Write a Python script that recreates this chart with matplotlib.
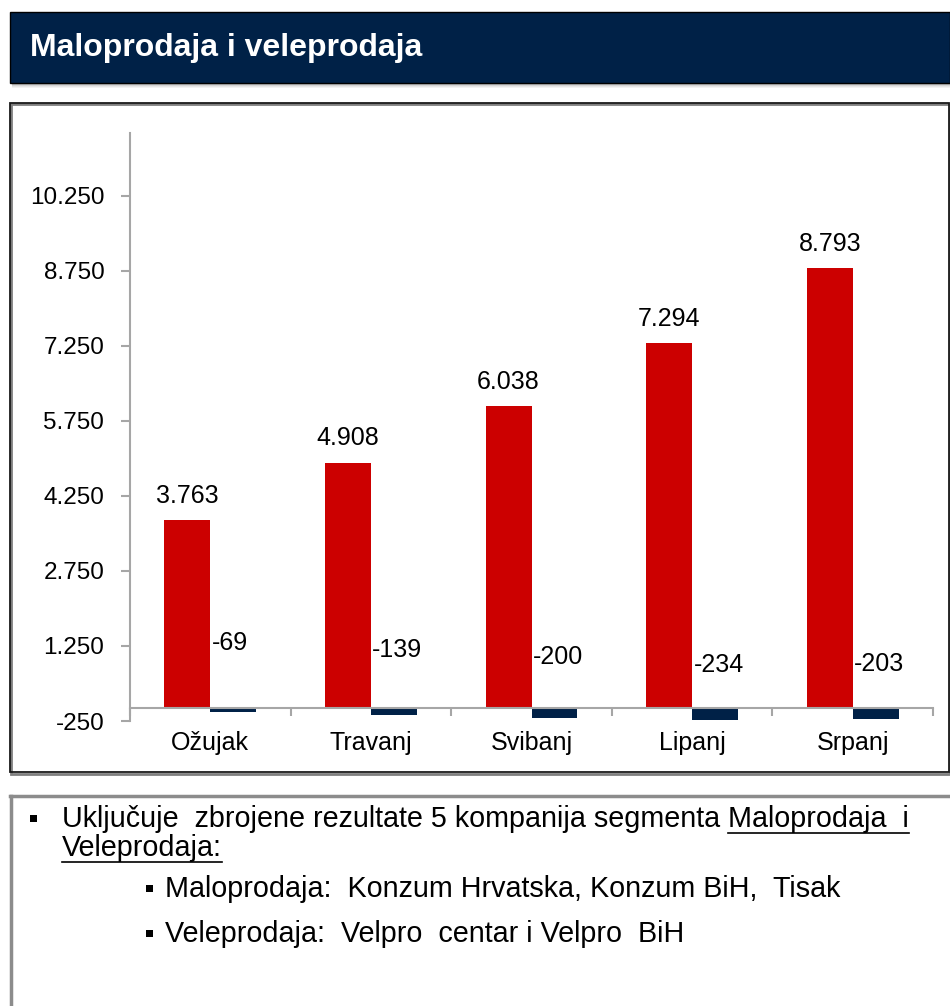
import matplotlib
matplotlib.use('Agg')
import matplotlib.pyplot as plt
from matplotlib.patches import Rectangle
from matplotlib.lines import Line2D
import numpy as np

# ---------------- data ----------------
months = ['Ožujak', 'Travanj', 'Svibanj', 'Lipanj', 'Srpanj']
maloprodaja = [3763, 4908, 6038, 7294, 8793]
veleprodaja = [-69, -139, -200, -234, -203]
ytick_values = [-250, 1250, 2750, 4250, 5750, 7250, 8750, 10250]
ytick_labels = ['-250', '1.250', '2.750', '4.250', '5.750', '7.250', '8.750', '10.250']
title = 'Maloprodaja i veleprodaja'
note_line1 = 'Uključuje  zbrojene rezultate 5 kompanija segmenta '
note_line1_ul = 'Maloprodaja  i'
note_line2_ul = 'Veleprodaja:'
sub_bullets = ['Maloprodaja:  Konzum Hrvatska, Konzum BiH,  Tisak',
               'Veleprodaja:  Velpro  centar i Velpro  BiH']

# ---------------- style / layout ----------------
RED = '#CC0000'
NAVY = '#002147'
GRID_GREY = '#A6A6A6'
W, H = 950, 1006
# label heights (pixels above zero line) for the negative-series labels
vele_label_px = [65, 58, 51, 43, 44]

plt.rcParams['font.family'] = ['Liberation Sans', 'DejaVu Sans']
fig = plt.figure(figsize=(W / 100, H / 100), dpi=100)


def fx(x):
    return x / W


def fy(y):
    return 1 - y / H


def rect(x0, y0, x1, y1, **kw):
    r = Rectangle((fx(x0), fy(y1)), (x1 - x0) / W, (y1 - y0) / H,
                  transform=fig.transFigure, **kw)
    fig.add_artist(r)
    return r


# header shadow
for i, a in enumerate([0.35, 0.25, 0.17, 0.10, 0.05]):
    rect(12, 83 + i, 950, 84 + i, facecolor='black', alpha=a, edgecolor='none', lw=0)
# header box
rect(10, 12, 950, 83, facecolor=NAVY, edgecolor='#000000', lw=1)
fig.text(fx(30), fy(48), title, color='white', fontsize=23, fontweight='bold',
         ha='left', va='center')

# chart frame
rect(11, 104, 950, 774, facecolor='none', edgecolor='#7F7F7F', lw=2.0)
rect(10, 103, 949, 772, facecolor='none', edgecolor='#1A1A1A', lw=1.3)

# ---------------- axes ----------------
ax = fig.add_axes([fx(130), fy(721), (933 - 130) / W, (721 - 133) / H])
x = np.arange(len(months))
w = 0.286
ax.bar(x - w / 2, maloprodaja, w, color=RED, zorder=2)
ax.bar(x + w / 2, veleprodaja, w, color=NAVY, zorder=2)
ax.set_xlim(-0.5, len(months) - 0.5)
ax.set_ylim(-250, 11500)

for s in ['top', 'right']:
    ax.spines[s].set_visible(False)
ax.spines['bottom'].set_position(('data', 0))
for s in ['bottom', 'left']:
    ax.spines[s].set_color(GRID_GREY)
    ax.spines[s].set_linewidth(1.5)

ax.set_yticks(ytick_values, ytick_labels)
ax.tick_params(axis='y', length=6.5, width=1.5, color=GRID_GREY, labelsize=17.5, pad=12)
ax.set_xticks(x, months)
ax.set_xticks(np.arange(-0.5, len(months)), minor=True)
ax.tick_params(axis='x', which='major', length=0, labelsize=18, pad=16.5)
ax.tick_params(axis='x', which='minor', length=6, width=1.5, color=GRID_GREY)
ax.set_facecolor('none')


def fmt(v):
    return f'{v:,}'.replace(',', '.')


for xi, v in zip(x, maloprodaja):
    ax.annotate(fmt(v), (xi - w / 2, v), xytext=(0, 9), textcoords='offset points',
                ha='center', va='bottom', fontsize=18)
for xi, v, off in zip(x, veleprodaja, vele_label_px):
    ax.annotate(fmt(v), (xi, 0), xytext=(1, off * 0.72), textcoords='offset points',
                ha='left', va='center', fontsize=18)

# ---------------- note box ----------------
fig.add_artist(Line2D([fx(10), fx(950)], [fy(796), fy(796)], transform=fig.transFigure,
                      color='#8C8C8C', lw=2.5))
fig.add_artist(Line2D([fx(11), fx(11)], [fy(796), fy(1006)], transform=fig.transFigure,
                      color='#8C8C8C', lw=2.5))

NOTE_FS = 20.7
rect(30, 815, 37, 822, facecolor='black', edgecolor='none')
t1 = fig.text(fx(62), fy(819), note_line1, fontsize=NOTE_FS, ha='left', va='center')
fig.canvas.draw()
r = fig.canvas.get_renderer()
bb = t1.get_window_extent(r)
t1b = fig.text(bb.x1 / W, fy(819), note_line1_ul, fontsize=NOTE_FS, ha='left', va='center')
t2 = fig.text(fx(62), fy(848), note_line2_ul, fontsize=NOTE_FS, ha='left', va='center')
fig.canvas.draw()
for t, yline in [(t1b, 833), (t2, 862)]:
    b = t.get_window_extent(r)
    fig.add_artist(Line2D([b.x0 / W, b.x1 / W], [fy(yline), fy(yline)],
                          transform=fig.transFigure, color='black', lw=1.2))

for txt, yc in zip(sub_bullets, [889, 934]):
    rect(146, yc - 4, 153, yc + 3, facecolor='black', edgecolor='none')
    fig.text(fx(165), fy(yc), txt, fontsize=NOTE_FS, ha='left', va='center')

fig.savefig('out.png', dpi=100)
